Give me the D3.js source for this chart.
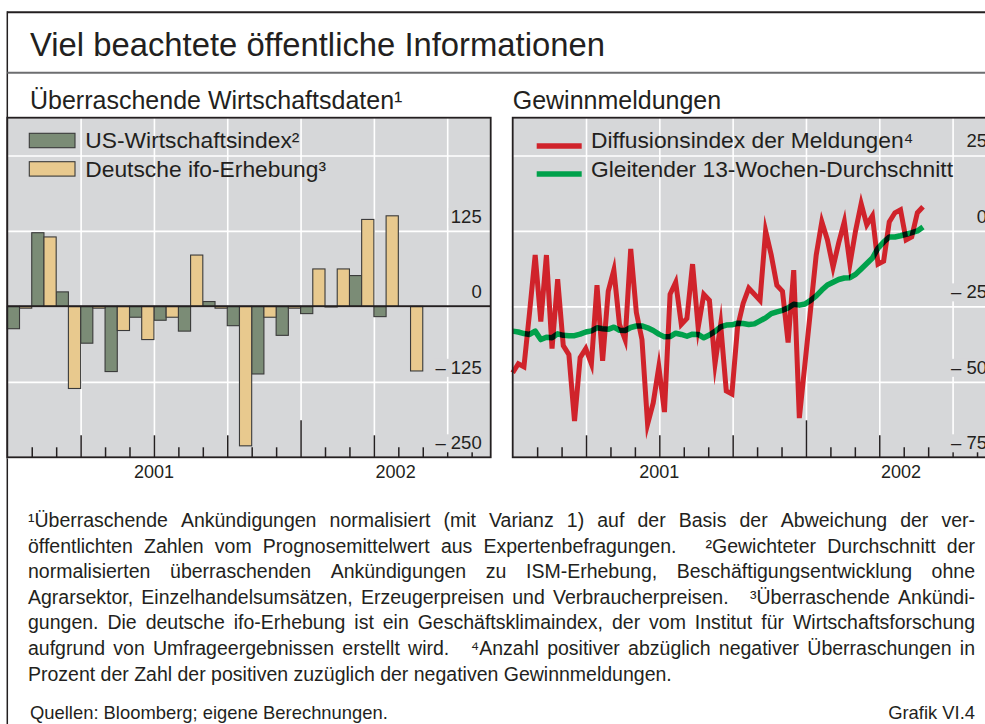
<!DOCTYPE html>
<html>
<head>
<meta charset="utf-8">
<script src="https://d3js.org/d3.v7.min.js"></script>
<style>
  body { margin: 0; background: #fff; }
  text { font-family: "Liberation Sans", Arial, Helvetica, sans-serif; fill: #231f20; }
</style>
</head>
<body>
<svg id="chart" width="985" height="724"></svg>
<script>
// --- data -------------------------------------------------------------
// monthly surprises, Jan 2001 .. May 2002
var months = ["2001-01", "2001-02", "2001-03", "2001-04", "2001-05", "2001-06", "2001-07", "2001-08",
    "2001-09", "2001-10", "2001-11", "2001-12", "2002-01", "2002-02", "2002-03", "2002-04", "2002-05"]
var usIndex = [-37, 122, 24, -61, -108, -18, -23, -41, 8, -32, -112, -48, -12, -1, 51, 0, -17]
var ifoIndex = [-3, 115, -136, -3, -40, -55, -18, 85, -3, -231, -18, -3, 62, 62, 144, 150, -107]

// weekly earnings announcements, first week of Jan 2001 onwards
var weekStart = "2001-01-01"
var diffusion = [-47, -44, -45, -27, -8, -30, -8, -39, -16, -38, -41, -63, -42, -39, -44, -18, -43, -20,
    -13, -31, -36, -6, -27, -36, -64, -57, -45, -60, -21, -17, -31, -29, -11, -32, -21, -23, -44, -31,
    -53, -54, -32, -24, -19, -21, -23, 0, -8, -18, -20, -37, -13, -62, -44, -26, -8, 3, -3, -12, -4,
    3, -11, 0, 9, 2, 5, -11, -10, 3, 6, 7, -3, -2, 6, 8]
var movingAvg = [-33.2, -33.5, -34, -34.3, -33.2, -36, -35.2, -35.4, -34.1, -34.6, -34.7, -34.7, -34.2,
    -33.5, -33.1, -32.1, -32.4, -32.6, -31.9, -32.9, -33, -32, -31.5, -31.5, -32.1, -33, -34.2, -35.1,
    -35, -33.9, -34.3, -34.9, -34.2, -34.3, -35.4, -34.5, -33.3, -31.8, -31.2, -31.1, -30.6, -30.7, -31,
    -30.8, -29.8, -28.8, -27.4, -26.8, -26.3, -25.5, -24.3, -24.6, -24.2, -23, -21.5, -19.6, -17.9, -17,
    -16.1, -15.6, -15.5, -14.4, -12.6, -10.8, -9, -5.7, -3.7, -2, -2, -1.6, -1.1, -0.6, 0, 1.3]

var leftGrid = [-250, -125, 0, 125, 250]
var leftLabels = [-250, -125, 0, 125]
var rightGrid = [-75, -50, -25, 0, 25]
var rightLabels = [-75, -50, -25, 0, 25]
var yearLabels = ["2001", "2002"]

var footnotes = [
    "¹Überraschende Ankündigungen normalisiert (mit Varianz 1) auf der Basis der Abweichung der ver-",
    "öffentlichten Zahlen vom Prognosemittelwert aus Expertenbefragungen.  ²Gewichteter Durchschnitt der",
    "normalisierten überraschenden Ankündigungen zu ISM-Erhebung, Beschäftigungsentwicklung ohne",
    "Agrarsektor, Einzelhandelsumsätzen, Erzeugerpreisen und Verbraucherpreisen.  ³Überraschende Ankündi-",
    "gungen. Die deutsche ifo-Erhebung ist ein Geschäftsklimaindex, der vom Institut für Wirtschaftsforschung",
    "aufgrund von Umfrageergebnissen erstellt wird.  ⁴Anzahl positiver abzüglich negativer Überraschungen in",
    "Prozent der Zahl der positiven zuzüglich der negativen Gewinnmeldungen."
]

// --- layout -----------------------------------------------------------
var svg = d3.select('#chart')
var plotTop = 117.7, plotBottom = 457.3, plotW = 483.4
var leftX0 = 7.3, rightX0 = 512.7
var bg = '#d6d7d9'
var dark = '#231f20'
var monthSpan = 19.78   // visible months per panel

// frame
svg.append('line').attr('x1', leftX0).attr('x2', 985).attr('y1', 12.3).attr('y2', 12.3)
    .attr('stroke', dark).attr('stroke-width', 2)
svg.append('line').attr('x1', leftX0).attr('x2', leftX0).attr('y1', 11.3).attr('y2', 724)
    .attr('stroke', dark).attr('stroke-width', 1.5)
svg.append('line').attr('x1', leftX0).attr('x2', 985).attr('y1', 72.7).attr('y2', 72.7)
    .attr('stroke', '#6d6e70').attr('stroke-width', 2)

svg.append('text').attr('x', 30).attr('y', 56).style('font-size', '32.8px')
    .text('Viel beachtete öffentliche Informationen')
svg.append('text').attr('x', 30).attr('y', 109).style('font-size', '25px')
    .text('Überraschende Wirtschaftsdaten¹')
svg.append('text').attr('x', rightX0).attr('y', 109).style('font-size', '25px')
    .text('Gewinnmeldungen')

function makePanel(x0, yDomain, grid) {
    var g = svg.append('g').attr('transform', 'translate(' + x0 + ',0)')
    var x = d3.scaleLinear().domain([0, monthSpan]).range([0, plotW])
    var y = d3.scaleLinear().domain(yDomain).range([plotBottom, plotTop])

    g.append('rect').attr('x', 0).attr('y', plotTop).attr('width', plotW)
        .attr('height', plotBottom - plotTop).attr('fill', bg)

    // horizontal grid
    var gy = g.append('g')
        .call(d3.axisRight(y).tickValues(grid).tickSize(plotW).tickFormat(''))
    gy.select('.domain').remove()
    gy.selectAll('line').attr('stroke', '#fff').attr('stroke-width', 1.6)

    // vertical grid every quarter
    var gx = g.append('g').attr('transform', 'translate(0,' + plotTop + ')')
        .call(d3.axisBottom(x).tickValues([3, 6, 9, 12, 15, 18]).tickSize(plotBottom - plotTop).tickFormat(''))
    gx.select('.domain').remove()
    gx.selectAll('line').attr('stroke', '#fff').attr('stroke-width', 1.6)

    return {g: g, x: x, y: y}
}

function finishPanel(p, labels, fmt) {
    var g = p.g, x = p.x, y = p.y
    // month ticks, pointing up from the bottom
    var ax = g.append('g').attr('transform', 'translate(0,' + plotBottom + ')')
        .call(d3.axisTop(x).tickValues(d3.range(1, 20)).tickSize(10).tickFormat(''))
    ax.select('.domain').remove()
    ax.selectAll('line').attr('stroke', dark).attr('stroke-width', 1.5)
        .attr('y2', function (d) { return d % 12 == 0 ? -37 : (d % 3 == 0 ? -22 : -10) })

    // y labels with knockout
    var lab = g.append('g')
    labels.forEach(function (t) {
        var txt = lab.append('text').attr('x', plotW - 9).attr('y', y(t) - 8)
            .attr('text-anchor', 'end').style('font-size', '18.5px').text(fmt(t))
        var bb = txt.node().getBBox()
        lab.insert('rect', 'text').attr('x', bb.x - 2).attr('y', bb.y + 2).attr('width', bb.width + 4)
            .attr('height', bb.height - 3).attr('fill', bg)
    })

    // border
    g.append('rect').attr('x', 0).attr('y', plotTop).attr('width', plotW)
        .attr('height', plotBottom - plotTop).attr('fill', 'none').attr('stroke', dark).attr('stroke-width', 1.8)

    // year labels centred on visible part of each year
    yearLabels.forEach(function (yr, i) {
        var a = x(i * 12), b = Math.min(x((i + 1) * 12), plotW)
        g.append('text').attr('x', (a + b) / 2).attr('y', 478).attr('text-anchor', 'middle')
            .style('font-size', '18px').text(yr)
    })
}

function fmtTick(t) { return t < 0 ? '– ' + (-t) : String(t) }

// --- left panel: bars ---------------------------------------------------
var left = makePanel(leftX0, [-250, 312.5], leftGrid)
var bars = left.g.append('g')
function drawBars(values, offset, color) {
    bars.selectAll(null).data(values).enter().append('rect')
        .filter(function (d) { return d != 0 })
        .attr('x', function (d, i) { return left.x(i + offset) })
        .attr('width', left.x(0.5) - left.x(0))
        .attr('y', function (d) { return left.y(Math.max(0, d)) })
        .attr('height', function (d) { return Math.abs(left.y(d) - left.y(0)) })
        .attr('fill', color).attr('stroke', '#3a3a3a').attr('stroke-width', 1.1)
}
drawBars(usIndex, 0, '#7b8c76')
drawBars(ifoIndex, 0.5, '#e8c98e')
left.g.append('line').attr('x1', 0).attr('x2', plotW).attr('y1', left.y(0)).attr('y2', left.y(0))
    .attr('stroke', dark).attr('stroke-width', 2)

// legend
var legL = [['US-Wirtschaftsindex²', '#7b8c76'], ['Deutsche ifo-Erhebung³', '#e8c98e']]
legL.forEach(function (d, i) {
    left.g.append('rect').attr('x', 22).attr('y', 133.3 + i * 28.4).attr('width', 45.7).attr('height', 14.4)
        .attr('fill', d[1]).attr('stroke', '#3a3a3a').attr('stroke-width', 1.1)
    left.g.append('text').attr('x', 78).attr('y', 148.3 + i * 28.4).style('font-size', '22.8px').text(d[0])
})
finishPanel(left, leftLabels, fmtTick)

// --- right panel: lines -------------------------------------------------
var right = makePanel(rightX0, [-75, 37.5], rightGrid)
var t0 = d3.timeParse('%Y-%m-%d')(weekStart)
function weekPos(i) {
    // week i expressed in months since Jan 2001
    var dt = d3.timeWeek.offset(t0, i)
    return (dt - t0) / 864e5 / 30.4375
}
var line = d3.line()
    .x(function (d, i) { return right.x(weekPos(i)) })
    .y(function (d) { return right.y(d) })
var lines = right.g.append('g').style('isolation', 'isolate')
lines.append('path').datum(diffusion).attr('d', line).attr('fill', 'none')
    .attr('stroke', '#d0232b').attr('stroke-width', 5).attr('stroke-linejoin', 'miter').attr('stroke-miterlimit', 10)
lines.append('path').datum(movingAvg).attr('d', line).attr('fill', 'none')
    .attr('stroke', '#00a14b').attr('stroke-width', 5.5).attr('stroke-linejoin', 'round')
    .style('mix-blend-mode', 'multiply')

var legR = [['Diffusionsindex der Meldungen⁴', '#d0232b'], ['Gleitender 13-Wochen-Durchschnitt', '#00a14b']]
legR.forEach(function (d, i) {
    right.g.append('line').attr('x1', 24).attr('x2', 69).attr('y1', 146 + i * 28).attr('y2', 146 + i * 28)
        .attr('stroke', d[1]).attr('stroke-width', 5.5)
    right.g.append('text').attr('x', 78.3).attr('y', 148.3 + i * 28.4).style('font-size', '22.8px').text(d[0])
})
finishPanel(right, rightLabels, fmtTick)

// --- footnotes (justified) ----------------------------------------------
var fnX = 28, fnRight = 975, fnY = 527, fnStep = 25.6, fnSize = '19.5px'
footnotes.forEach(function (ln, k) {
    var txt = svg.append('text').attr('y', fnY + k * fnStep).style('font-size', fnSize)
    var parts = ln.split(/( +)/)
    var words = [], gaps = []
    for (var i = 0; i < parts.length; i += 2) {
        words.push(parts[i])
        if (i + 1 < parts.length) gaps.push(parts[i + 1].length > 1 ? 2.6 : 1)
    }
    var spans = words.map(function (w) { return txt.append('tspan').text(w) })
    var widths = spans.map(function (s) { return s.node().getComputedTextLength() })
    var total = d3.sum(widths)
    var last = k == footnotes.length - 1
    var unit = last ? 5.4 : (fnRight - fnX - total) / d3.sum(gaps)
    var cx = fnX
    spans.forEach(function (s, i) {
        s.attr('x', cx)
        cx += widths[i] + (i < gaps.length ? gaps[i] * unit : 0)
    })
})
svg.append('text').attr('x', fnX + 2).attr('y', 719).style('font-size', '18.4px')
    .text('Quellen: Bloomberg; eigene Berechnungen.')
svg.append('text').attr('x', fnRight).attr('y', 719).attr('text-anchor', 'end').style('font-size', '18.4px')
    .text('Grafik VI.4')
</script>
</body>
</html>
